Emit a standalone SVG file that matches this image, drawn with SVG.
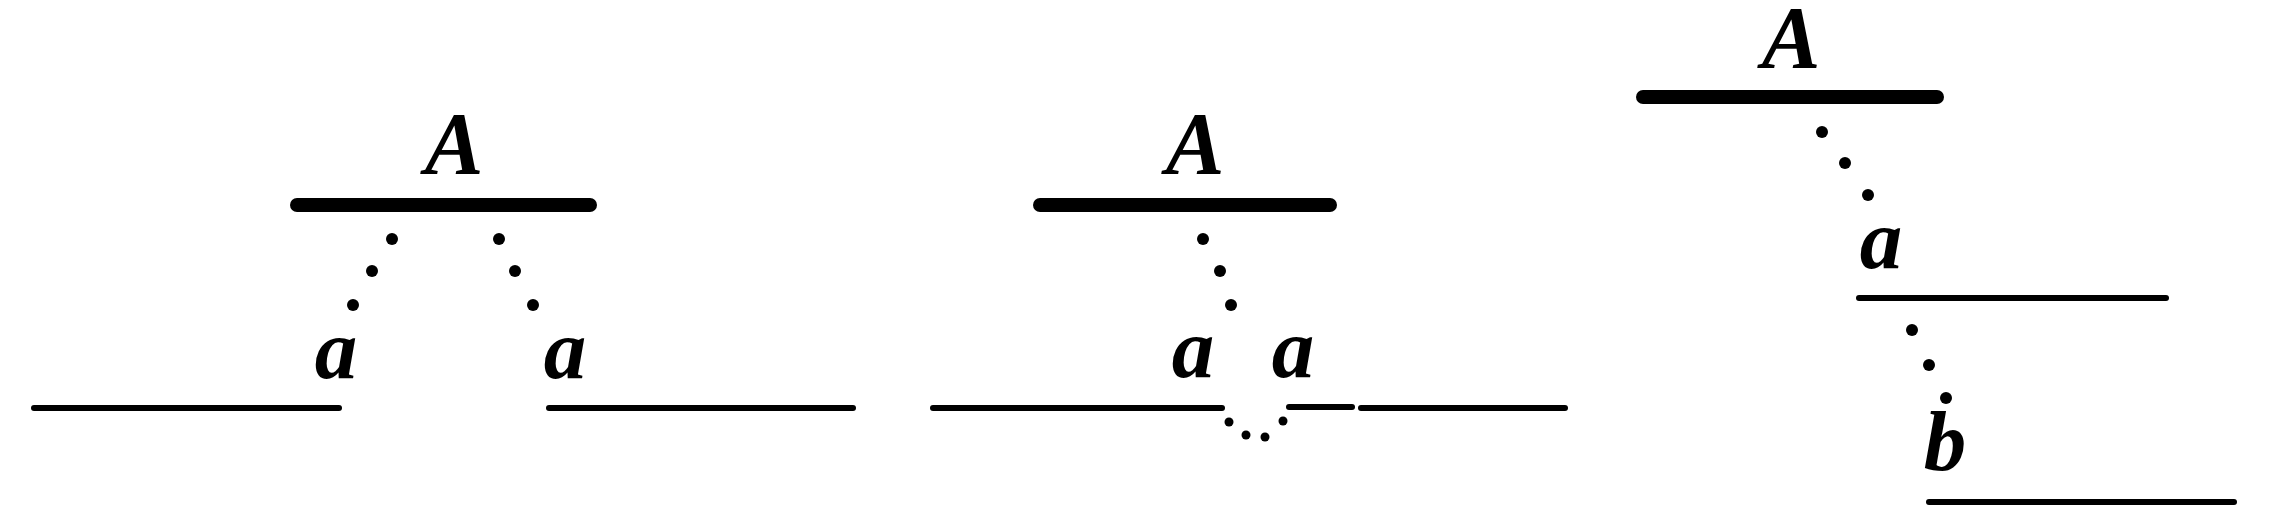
<svg xmlns="http://www.w3.org/2000/svg" width="2281" height="532" viewBox="0 0 2281 532">
<style>
.bar{stroke:#000;stroke-width:14;stroke-linecap:round;fill:none}
.thin{stroke:#000;stroke-width:6;stroke-linecap:round;fill:none}
.dot{fill:#000}
.sdot{fill:#000}
.lbl{font-family:"Liberation Serif","DejaVu Serif",serif;font-style:italic;font-weight:bold;fill:#000;text-anchor:middle}
.cap{font-size:88px}
.low{font-size:85px}
</style>
<rect width="2281" height="532" fill="#fff"/>
<g id="panel1">
  <g id="p1-A"><line class="bar" x1="297" y1="205" x2="590" y2="205"/><text class="lbl cap" x="454" y="173">A</text></g>
  <g id="p1-left"><line class="thin" x1="34" y1="408" x2="339" y2="408"/><text class="lbl low" x="336" y="378">a</text></g>
  <g id="p1-right"><line class="thin" x1="549" y1="408" x2="853" y2="408"/><text class="lbl low" x="565" y="378">a</text></g>
</g>
<g id="panel2">
  <g id="p2-A"><line class="bar" x1="1040" y1="205" x2="1330" y2="205"/><text class="lbl cap" x="1195" y="173">A</text></g>
  <g id="p2-left"><line class="thin" x1="933" y1="408" x2="1222" y2="408"/><text class="lbl low" x="1193" y="377">a</text></g>
  <g id="p2-mid"><line class="thin" x1="1289" y1="407" x2="1352" y2="407"/><text class="lbl low" x="1293" y="377">a</text></g>
  <g id="p2-right"><line class="thin" x1="1361" y1="408" x2="1565" y2="408"/></g>
</g>
<g id="panel3">
  <g id="p3-A"><line class="bar" x1="1643" y1="97" x2="1937" y2="97"/><text class="lbl cap" x="1791" y="67">A</text></g>
  <g id="p3-a"><line class="thin" x1="1859" y1="298" x2="2166" y2="298"/><text class="lbl low" x="1881" y="268">a</text></g>
  <g id="p3-b"><line class="thin" x1="1929" y1="502" x2="2234" y2="502"/><text class="lbl low" x="1945" y="470">b</text></g>
</g>
<g id="connectors">
  <circle class="dot" cx="392" cy="239" r="6"/>
  <circle class="dot" cx="372" cy="271" r="6"/>
  <circle class="dot" cx="353" cy="305" r="6"/>
  <circle class="dot" cx="499" cy="239" r="6"/>
  <circle class="dot" cx="515" cy="271" r="6"/>
  <circle class="dot" cx="533" cy="305" r="6"/>
  <circle class="dot" cx="1203" cy="239" r="6"/>
  <circle class="dot" cx="1220" cy="271" r="6"/>
  <circle class="dot" cx="1231" cy="305" r="6"/>
  <circle class="sdot" cx="1229" cy="422" r="4.5"/>
  <circle class="sdot" cx="1246" cy="435" r="4.5"/>
  <circle class="sdot" cx="1265" cy="437" r="4.5"/>
  <circle class="sdot" cx="1283" cy="421" r="4.5"/>
  <circle class="dot" cx="1822" cy="132" r="6"/>
  <circle class="dot" cx="1845" cy="163" r="6"/>
  <circle class="dot" cx="1868" cy="195" r="6"/>
  <circle class="dot" cx="1912" cy="330" r="6"/>
  <circle class="dot" cx="1929" cy="365" r="6"/>
  <circle class="dot" cx="1946" cy="398" r="6"/>
</g>
</svg>
